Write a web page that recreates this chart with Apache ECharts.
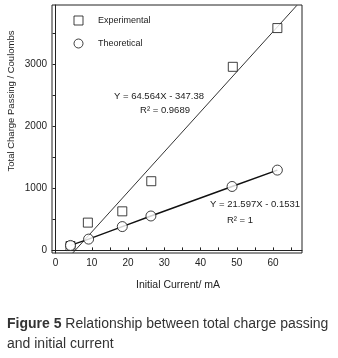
<!DOCTYPE html>
<html>
<head>
<meta charset="utf-8">
<script src="https://cdn.jsdelivr.net/npm/echarts@6/dist/echarts.min.js"></script>
<style>
  html, body { margin: 0; padding: 0; background: #fff; }
  #chart { width: 338px; height: 358px; }
</style>
</head>
<body>
<div id="chart"></div>
<script>
// values
var currentExp = [4.1, 8.9, 18.4, 26.4, 48.9, 61.2];
var chargeExp = [70, 448, 630, 1116, 2961, 3586];
var currentTheo = [4.1, 9.1, 18.4, 26.3, 48.7, 61.2];
var chargeTheo = [80, 182, 384, 555, 1031, 1295];
// ends of the experimental fit line
var expFitX = [4.7, 66.6];
var expFitY = [-44, 3953];
var xLabels = [0, 10, 20, 30, 40, 50, 60];
var xTicks = [0, 5, 10, 15, 20, 25, 30, 35, 40, 45, 50, 55, 60, 65];
var yLabels = [0, 1000, 2000, 3000];
var yTicks = [0, 500, 1000, 1500, 2000, 2500, 3000, 3500];

function pairs(xs, ys) {
  return xs.map(function (x, i) { return [x, ys[i]]; });
}

var font = "'Liberation Sans', Arial, sans-serif";
var ink = "#222";

var chart = echarts.init(document.getElementById("chart"));
var option = {
  animation: false,
  textStyle: { fontFamily: font },
  grid: {
    left: 52, right: 36, top: 5, bottom: 105,
    show: true, borderColor: ink, borderWidth: 1
  },
  legend: {
    orient: "vertical",
    left: 68.5, top: 10.5,
    itemWidth: 9, itemHeight: 9, itemGap: 13,
    itemStyle: { color: "#fff", borderColor: "#111", borderWidth: 1 },
    textStyle: { fontSize: 9, color: ink, padding: [0, 0, 0, 10] },
    data: ["Experimental", "Theoretical"]
  },
  xAxis: {
    type: "value", min: -1, max: 68,
    axisLine: { lineStyle: { color: ink, width: 1 } },
    axisTick: { inside: true, length: 3, lineStyle: { color: ink }, customValues: xTicks },
    axisLabel: { fontSize: 10, color: ink, margin: 5, customValues: xLabels },
    splitLine: { show: false }
  },
  yAxis: {
    type: "value", min: -42, max: 3958,
    axisLine: { show: true, lineStyle: { color: ink, width: 1 } },
    axisTick: { show: true, inside: false, length: 3, lineStyle: { color: ink }, customValues: yTicks },
    axisLabel: {
      fontSize: 10, color: ink, margin: 5, customValues: yLabels,
      formatter: function (v) { return String(v); }
    },
    splitLine: { show: false }
  },
  series: [
    {
      type: "line", silent: true, symbol: "none",
      lineStyle: { color: "#333", width: 1 },
      data: pairs(expFitX, expFitY), z: 2
    },
    {
      type: "line", silent: true, symbol: "none",
      lineStyle: { color: "#111", width: 1.4 },
      data: pairs(currentTheo, chargeTheo), z: 2
    },
    {
      name: "Experimental", type: "scatter", symbol: "rect", symbolSize: 9,
      itemStyle: { color: "#fff", borderColor: "#111", borderWidth: 1 },
      data: pairs(currentExp, chargeExp), z: 3
    },
    {
      name: "Theoretical", type: "scatter", symbol: "circle", symbolSize: 10,
      itemStyle: { color: "#fff", borderColor: "#111", borderWidth: 1 },
      data: pairs(currentTheo, chargeTheo), z: 4
    }
  ],
  graphic: [
    {
      type: "text", x: 159, y: 96,
      style: { text: "Y = 64.564X - 347.38", font: "9.5px " + font, fill: ink, align: "center", verticalAlign: "middle" }
    },
    {
      type: "text", x: 165, y: 110,
      style: { text: "R² = 0.9689", font: "9.5px " + font, fill: ink, align: "center", verticalAlign: "middle" }
    },
    {
      type: "text", x: 255, y: 204,
      style: { text: "Y = 21.597X - 0.1531", font: "9.5px " + font, fill: ink, align: "center", verticalAlign: "middle" }
    },
    {
      type: "text", x: 240, y: 220,
      style: { text: "R² = 1", font: "9.5px " + font, fill: ink, align: "center", verticalAlign: "middle" }
    },
    {
      type: "text", x: 11, y: 101, rotation: Math.PI / 2,
      style: { text: "Total Charge Passing / Coulombs", font: "9.5px " + font, fill: ink, align: "center", verticalAlign: "middle" }
    },
    {
      type: "text", x: 178, y: 285,
      style: { text: "Initial Current/ mA", font: "10.5px " + font, fill: ink, align: "center", verticalAlign: "middle" }
    },
    {
      type: "text", x: 7, y: 314,
      style: {
        text: "{b|Figure 5} Relationship between total charge passing\nand initial current",
        font: "14px " + font, fill: "#333", lineHeight: 20,
        align: "left", verticalAlign: "top",
        rich: { b: { fontWeight: "bold", fontSize: 14, fontFamily: font, fill: "#333", lineHeight: 20 } }
      }
    }
  ]
};
chart.setOption(option);
window.addEventListener("resize", function () {
  chart.resize();
});
</script>
</body>
</html>
